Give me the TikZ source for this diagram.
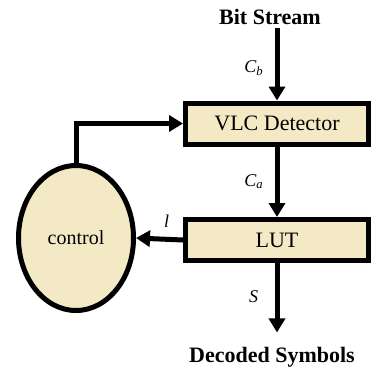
\documentclass[tikz,border=0pt]{standalone}
\usepackage{fontspec}
\setmainfont{Liberation Serif}
\usetikzlibrary{arrows.meta,shapes.geometric,positioning}
\definecolor{boxfill}{RGB}{243,233,196}
\begin{document}
\begin{tikzpicture}[x=1pt,y=-1pt,
	blk/.style={draw,line width=5pt,fill=boxfill,minimum width=183pt,minimum height=41pt,inner sep=0pt,font=\fontsize{22}{26}\selectfont},
	arr/.style={-{Triangle[length=14pt,width=16pt]},line width=5pt},
	lbl/.style={font=\itshape\fontsize{18}{21}\selectfont},
	ttl/.style={font=\bfseries\fontsize{22}{26}\selectfont}]
	\useasboundingbox (0,0) rectangle (373,368);
	\node[ttl] (bits) at (270,17) {Bit Stream};
	\node[blk] (vlc) at (277,123.5) {VLC Detector};
	\node[blk] (lut) at (277,240) {LUT};
	\node[draw,ellipse,line width=5pt,fill=boxfill,minimum width=115pt,minimum height=145pt,inner sep=0pt,font=\fontsize{20}{24}\selectfont] (ctrl) at (76,238) {control};
	\node[ttl] (out) at (272,357) {Decoded Symbols};
	% connectors
	\draw[arr] (bits.south -| vlc.north) -- node[lbl,pos=0.55,left=8pt]{C\textsubscript{b}} (vlc.north);
	\draw[arr] (vlc.south) -- node[lbl,left=8pt]{C\textsubscript{a}} (lut.north);
	\draw[arr] (lut.west) -- node[lbl,pos=0.35,above=6pt]{l} (ctrl.east);
	\draw[arr] (ctrl.north) |- (vlc.west);
	\draw[arr,shorten >=11pt] (lut.south) -- node[lbl,pos=0.42,left=13pt]{S} (lut.south |- out.north);
\end{tikzpicture}
\end{document}
